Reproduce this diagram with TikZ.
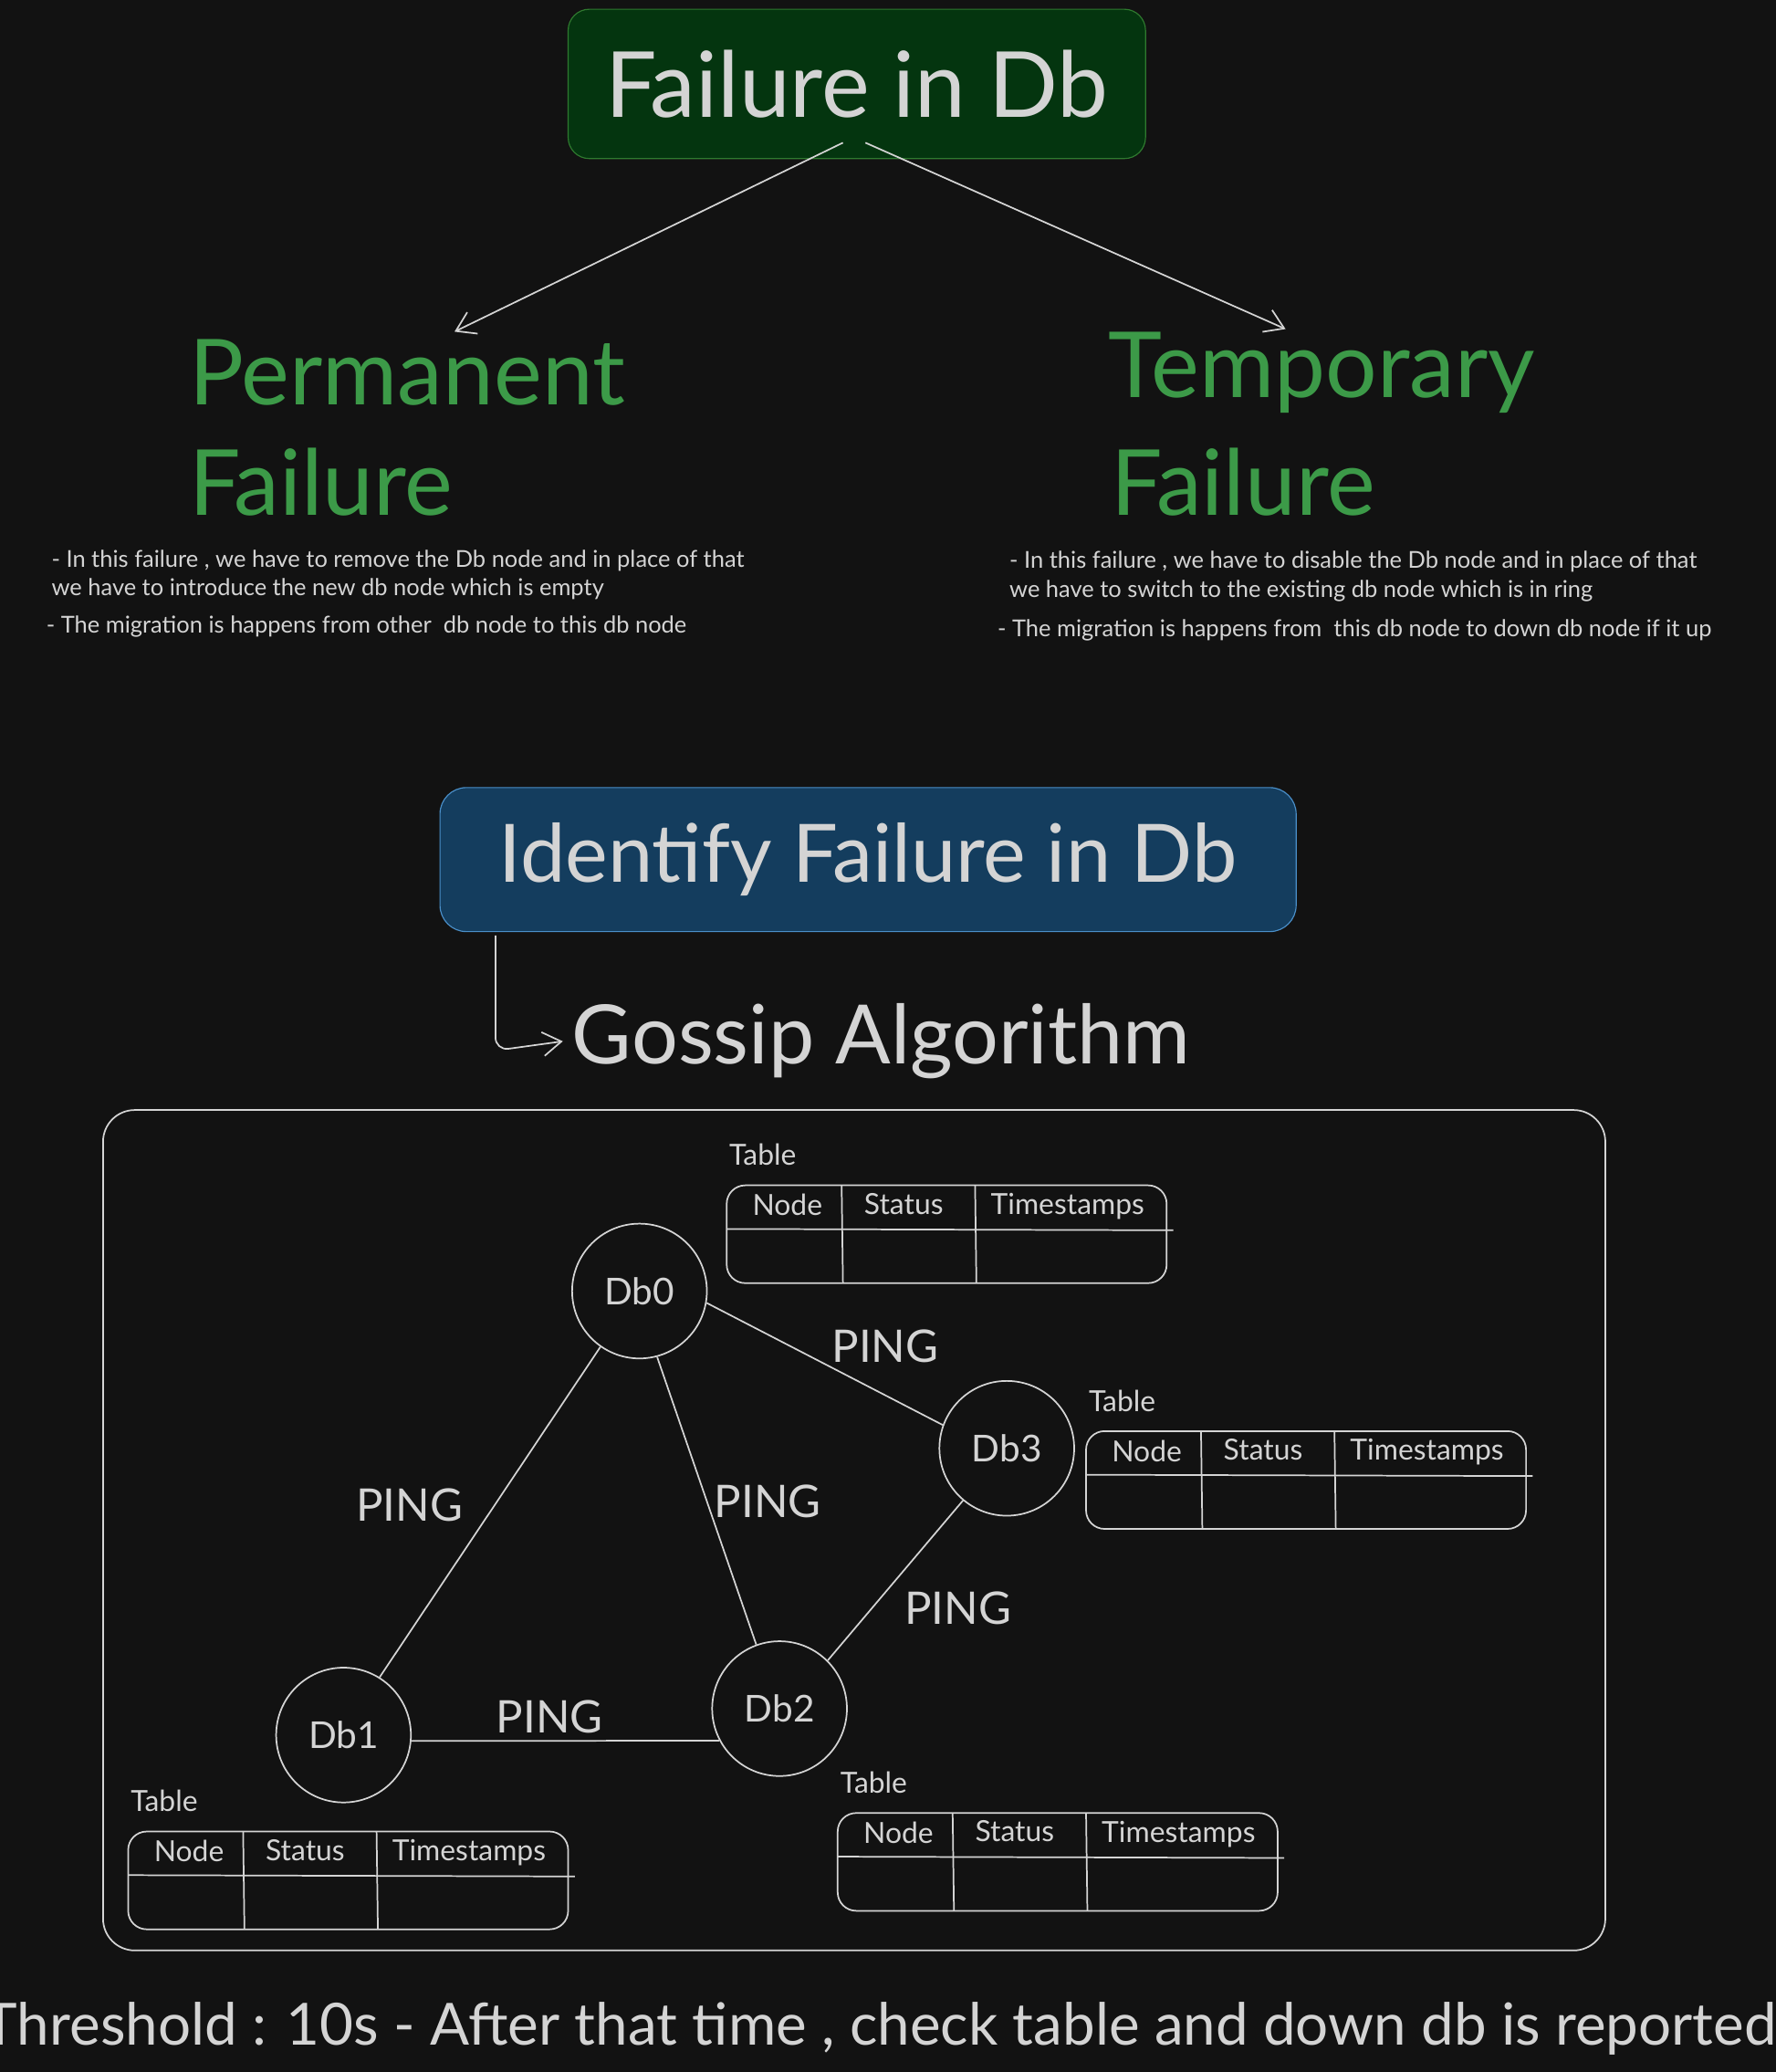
\documentclass[tikz,border=0pt]{standalone}
\usepackage{fontspec}
\setmainfont{Lato}
\usetikzlibrary{arrows.meta}
\definecolor{bg}{HTML}{121212}
\definecolor{txt}{HTML}{D4D4D4}
\definecolor{grn}{HTML}{3C9A48}
\definecolor{gfill}{HTML}{04350F}
\definecolor{gbord}{HTML}{2F7A2F}
\definecolor{bfill}{HTML}{143D5E}
\definecolor{bbord}{HTML}{4A8FC9}
\begin{document}
\begin{tikzpicture}[x=0.5pt,y=-0.5pt,
  line/.style={draw=txt,line width=0.6pt},
  arr/.style={line,-{Straight Barb[length=7pt,width=9pt]}},
  db/.style={circle,draw=txt,line width=0.6pt,minimum size=51pt,text=txt,font=\fontsize{14}{16}\selectfont},
  ping/.style={text=txt,font=\fontsize{17}{20}\selectfont},
  small/.style={text=txt,font=\fontsize{8.8}{11}\selectfont,anchor=west},
  big/.style={text=grn,font=\fontsize{34.5}{40}\selectfont,anchor=west},
  hdr/.style={text=txt,font=\fontsize{11}{13}\selectfont},
  pics/dbtable/.style={code={
    \draw[line,rounded corners=7pt] (0,0) rectangle (333,74);
    \draw[line] (0,33) -- (338,34);
    \draw[line] (87,0) -- (88,74);
    \draw[line] (188,0) -- (189,74);
    \node[hdr] at (46,15) {Node};
    \node[hdr] at (134,14) {Status};
    \node[hdr] at (258,16) {Timestamps};
    \node[hdr,anchor=west] at (-5,-23) {Table};
  }}]
\fill[bg] (0,0) rectangle (1344,1568);
\useasboundingbox (0,0) rectangle (1344,1568);

\node[draw=gbord,fill=gfill,rounded corners=8pt,minimum width=218.5pt,minimum height=56.5pt,text=txt,font=\fontsize{34.5}{40}\selectfont] (fail) at (648.5,63.5) {Failure in Db};
\coordinate (pa) at (344,251);
\coordinate (ta) at (973,249);
\draw[arr] (638,108) -- (pa);
\draw[arr] (655,108) -- (ta);

\node[big] (perm1) at (136,282) {Permanent};
\node[big] (perm2) at (136,365) {Failure};
\node[big] (temp1) at (832,282) {Temporary};
\node[big] (temp2) at (834,365) {Failure};

\node[small] (p1) at (32,424) {- In this failure , we have to remove the Db node and in place of that};
\node[small] (p2) at (32,446) {we have to introduce the new db node which is empty};
\node[small] (p3) at (28,474) {- The migration is happens from other\ \ db node to this db node};
\node[small] (t1) at (757,425) {- In this failure , we have to disable the Db node and in place of that};
\node[small] (t2) at (757,447) {we have to switch to the existing db node which is in ring};
\node[small] (t3) at (748,477) {- The migration is happens from\ \ this db node to down db node if it up};

\node[draw=bbord,fill=bfill,rounded corners=10pt,minimum width=324pt,minimum height=54.5pt,text=txt,font=\fontsize{30.5}{36}\selectfont] (ident) at (657,650.5) {Identify Failure in Db};
\node[text=txt,font=\fontsize{31}{36}\selectfont,anchor=west] (gossip) at (426,788) {Gossip Algorithm};
\draw[arr,rounded corners=5pt] (375,708) -- (375,795) -- (gossip.west);

\draw[line,rounded corners=12pt] (78,840) rectangle (1215,1476);

\node[db] (d0) at (484,977) {Db0};
\node[db] (d3) at (762,1096) {Db3};
\node[db] (d2) at (590,1293) {Db2};
\node[db] (d1) at (260,1313) {Db1};
\draw[line] (d0.-10) -- (d3.160);
\draw[line] (d0.-125) -- (d1.58);
\draw[line] (d0.-75) -- (d2.110);
\draw[line] (d3.230) -- (d2.45);
\draw[line] (d1.-5) -- (d2.-152);
\node[ping] (l03) at (670,1019) {PING};
\node[ping] (l01) at (310,1139) {PING};
\node[ping] (l02) at (581,1136) {PING};
\node[ping] (l32) at (725,1217) {PING};
\node[ping] (l12) at (416,1299) {PING};

\pic at (550,897) {dbtable};
\pic at (822,1083) {dbtable};
\pic at (634,1372) {dbtable};
\pic at (97,1386) {dbtable};

\node[text=txt,font=\fontsize{22}{26}\selectfont] (thr) at (666,1535) {Threshold : 10s - After that time , check table and down db is reported};
\end{tikzpicture}
\end{document}
